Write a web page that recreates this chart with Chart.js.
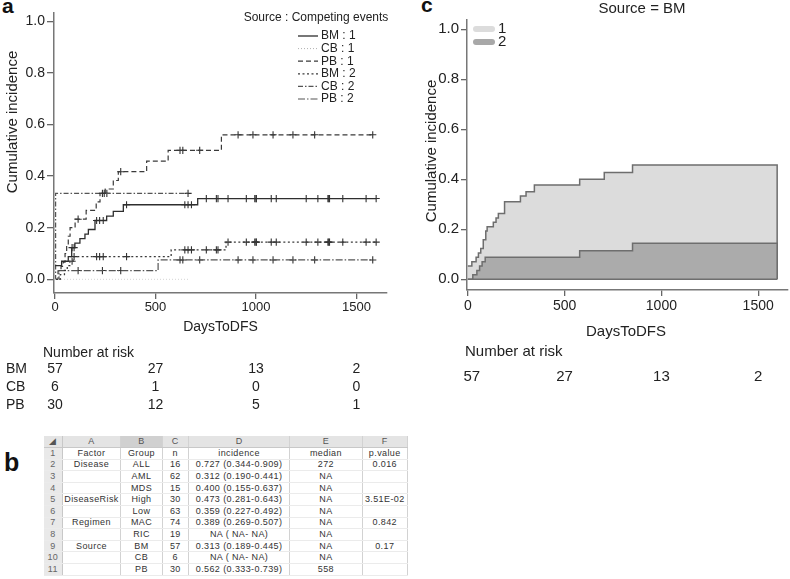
<!DOCTYPE html>
<html>
<head>
<meta charset="utf-8">
<script src="https://cdn.jsdelivr.net/npm/chart.js@4.4.0/dist/chart.umd.min.js"></script>
<style>
  body { margin:0; background:#fff; width:790px; height:579px; position:relative; overflow:hidden; font-family:'Liberation Sans', Arial, sans-serif; }
  .panel-label { position:absolute; font-weight:bold; color:#111; line-height:1; }
  #wrapA { position:absolute; left:0; top:0; width:405px; height:415px; }
  #wrapC { position:absolute; left:410px; top:0; width:380px; height:395px; }
  #tableWrap { position:absolute; left:44px; top:436px; width:364px; height:141px; overflow:hidden; }
  #tableWrap table { border-collapse:collapse; table-layout:fixed; font-size:9px; letter-spacing:0.4px; color:#333; }
  #tableWrap tr { height:11.6px; }
  #tableWrap td { padding:0; text-align:center; white-space:nowrap; overflow:hidden; line-height:1;
                  border-right:1px solid #d2d2d2; border-bottom:1px solid #ebebeb; }
  #tableWrap tr.head td { background:#e4e4e4; color:#555; border-bottom:1px solid #c8c8c8; }
  #tableWrap tr.head td.sel { background:#d0d0d0; }
  #tableWrap td.rn { background:#e9e9e9; color:#666; border-right:1px solid #c8c8c8; }
</style>
</head>
<body>
<div class="panel-label" style="left:2px; top:-5px; font-size:21px;">a</div>
<div class="panel-label" style="left:421px; top:-6px; font-size:21px;">c</div>
<div class="panel-label" style="left:4px; top:450px; font-size:25px;">b</div>
<div id="wrapA"><canvas id="chartA" width="405" height="415"></canvas></div>
<div id="wrapC"><canvas id="chartC" width="380" height="395"></canvas></div>
<div id="tableWrap"><table id="sheet"></table></div>
<script>
// ---- data ----
const xTicks = [0, 500, 1000, 1500];
const yTicks = [0, 0.2, 0.4, 0.6, 0.8, 1.0];

const endBM = 1598, endCB = 662, endPB = 1581;

// panel a: cumulative incidence by source (1 = relapse, 2 = competing)
const bm1Days = [0, 33, 66, 83, 99, 124, 149, 166, 199, 257, 290, 340, 710];
const bm1Vals = [0.053, 0.07, 0.088, 0.123, 0.14, 0.158, 0.175, 0.193, 0.228, 0.245, 0.263, 0.289, 0.313];
const cb1Days = [0];
const cb1Vals = [0];
const pb1Days = [0, 15, 30, 41, 50, 58, 66, 75, 100, 155, 205, 224, 250, 290, 315, 456, 563, 828];
const pb1Vals = [0, 0.033, 0.05, 0.067, 0.1, 0.133, 0.167, 0.2, 0.233, 0.267, 0.3, 0.333, 0.35, 0.383, 0.417, 0.458, 0.5, 0.56];
const bm2Days = [0, 26, 47, 61, 74, 90, 578, 851];
const bm2Vals = [0, 0.018, 0.035, 0.053, 0.07, 0.088, 0.114, 0.144];
const cb2Days = [0, 3];
const cb2Vals = [0, 0.333];
const pb2Days = [0, 20, 513];
const pb2Vals = [0, 0.034, 0.075];

// censoring times (+ marks)
const bmCensor = [85, 95, 207, 222, 240, 356, 646, 662, 679, 753, 803, 811, 861, 952, 994, 1000, 1002, 1076, 1101, 1250, 1308, 1358, 1362, 1366, 1432, 1548, 1598];
const cbCensor = [245, 258, 662];
const pbCensor = [115, 236, 327, 622, 636, 720, 911, 985, 1085, 1184, 1292, 1581];

// panel c: stacked, BM only (top = 1 + 2)
const bmAllDays = [0, 21, 43, 55, 67, 80, 93, 100, 132, 146, 158, 190, 272, 301, 344, 578, 705, 851];
const bmAllVals = [0.053, 0.07, 0.088, 0.105, 0.123, 0.158, 0.193, 0.21, 0.228, 0.245, 0.263, 0.31, 0.333, 0.35, 0.377, 0.4, 0.427, 0.457];

// number at risk
const riskTimes = [0, 500, 1000, 1500];
const riskBM = [57, 27, 13, 2];
const riskCB = [6, 1, 0, 0];
const riskPB = [30, 12, 5, 1];

// panel b table
const tableFactor = ['Disease', '', '', 'DiseaseRisk', '', 'Regimen', '', 'Source', '', ''];
const tableGroup = ['ALL', 'AML', 'MDS', 'High', 'Low', 'MAC', 'RIC', 'BM', 'CB', 'PB'];
const tableN = [16, 62, 15, 30, 63, 74, 19, 57, 6, 30];
const tableIncidence = ['0.727 (0.344-0.909)', '0.312 (0.190-0.441)', '0.400 (0.155-0.637)', '0.473 (0.281-0.643)',
  '0.359 (0.227-0.492)', '0.389 (0.269-0.507)', 'NA ( NA- NA)', '0.313 (0.189-0.445)', 'NA ( NA- NA)', '0.562 (0.333-0.739)'];
const tableMedian = ['272', 'NA', 'NA', 'NA', 'NA', 'NA', 'NA', 'NA', 'NA', '558'];
const tablePValue = ['0.016', '', '', '3.51E-02', '', '0.842', '', '0.17', '', ''];

// ---- helpers ----
const FONT = '"Liberation Sans", Arial, sans-serif';

function curve(days, vals, end) {
    return days.map((d, i) => ({ x: d, y: vals[i] })).concat([{ x: end, y: vals[vals.length - 1] }]);
}
function stepAt(days, vals, t) {
    let v = vals[0];
    days.forEach((d, i) => { if (d <= t) v = vals[i]; });
    return v;
}
function marks(days, vals, times) {
    return times.map(t => ({ x: t, y: stepAt(days, vals, t) }));
}

function axisX(min, max, tickLen, pad, size) {
    return {
        type: 'linear', min: min, max: max,
        afterBuildTicks: s => { s.ticks = xTicks.map(v => ({ value: v })); },
        afterFit: s => { s.height = 20; },
        grid: { drawOnChartArea: false, drawTicks: true, tickLength: tickLen, color: '#666', lineWidth: 1.3 },
        border: { display: true, color: '#777', width: 1.5 },
        ticks: { autoSkip: false, maxRotation: 0, padding: pad, color: '#222', font: { size: size, family: FONT }, callback: v => String(v) }
    };
}
function axisY(min, max, width, tickLen, size) {
    return {
        min: min, max: max,
        afterBuildTicks: s => { s.ticks = yTicks.map(v => ({ value: v })); },
        afterFit: s => { s.width = width; },
        grid: { drawOnChartArea: false, drawTicks: true, tickLength: tickLen, color: '#666', lineWidth: 1.3 },
        border: { display: true, color: '#777', width: 1.5 },
        ticks: { autoSkip: false, padding: 2, color: '#222', font: { size: size, family: FONT }, callback: v => v.toFixed(1) }
    };
}

// ---- panel a ----
const lineSeries = [
    { label: 'BM : 1', days: bm1Days, vals: bm1Vals, end: endBM, color: '#2e2e2e', dash: [], width: 1.3, censor: bmCensor },
    { label: 'CB : 1', days: cb1Days, vals: cb1Vals, end: endCB, color: '#d4d4d4', dash: [1, 2], width: 1, censor: [] },
    { label: 'PB : 1', days: pb1Days, vals: pb1Vals, end: endPB, color: '#3a3a3a', dash: [5, 3], width: 1.2, censor: pbCensor },
    { label: 'BM : 2', days: bm2Days, vals: bm2Vals, end: endBM, color: '#3a3a3a', dash: [2, 2.5], width: 1.3, censor: bmCensor },
    { label: 'CB : 2', days: cb2Days, vals: cb2Vals, end: endCB, color: '#555', dash: [5, 2, 1.5, 2], width: 1.2, censor: cbCensor },
    { label: 'PB : 2', days: pb2Days, vals: pb2Vals, end: endPB, color: '#555', dash: [7, 2, 1.5, 2], width: 1.2, censor: pbCensor }
];

const datasetsA = [];
lineSeries.forEach(s => {
    datasetsA.push({
        label: s.label, data: curve(s.days, s.vals, s.end), stepped: true,
        borderColor: s.color, borderDash: s.dash, borderWidth: s.width, pointRadius: 0, fill: false
    });
    if (s.censor.length) {
        datasetsA.push({
            label: s.label + ' censored', data: marks(s.days, s.vals, s.censor), showLine: false,
            pointStyle: 'cross', pointRadius: 3.6, pointBorderColor: '#333',
            pointBorderWidth: 1.1, pointBackgroundColor: 'transparent'
        });
    }
});

const panelAText = {
    id: 'panelAText',
    afterDraw(chart) {
        const ctx = chart.ctx, xs = chart.scales.x;
        ctx.save();
        ctx.fillStyle = '#222';
        ctx.textBaseline = 'middle';

        ctx.font = '15px ' + FONT;
        ctx.save();
        ctx.translate(13, 122);
        ctx.rotate(-Math.PI / 2);
        ctx.textAlign = 'center';
        ctx.fillText('Cumulative incidence', 0, 0);
        ctx.restore();

        ctx.font = '14px ' + FONT;
        ctx.textAlign = 'center';
        ctx.fillText('DaysToDFS', (chart.chartArea.left + chart.chartArea.right) / 2, 327);

        ctx.textAlign = 'left';
        ctx.fillText('Number at risk', 43, 353);
        const rows = [['BM', riskBM, 369], ['CB', riskCB, 387], ['PB', riskPB, 405]];
        rows.forEach(r => {
            ctx.textAlign = 'left';
            ctx.fillText(r[0], 6, r[2]);
            ctx.textAlign = 'center';
            r[1].forEach((n, i) => ctx.fillText(String(n), xs.getPixelForValue(riskTimes[i]), r[2]));
        });

        // legend
        ctx.font = '12px ' + FONT;
        ctx.textAlign = 'center';
        ctx.fillText('Source : Competing events', 316, 18);
        ctx.textAlign = 'left';
        lineSeries.forEach((s, i) => {
            const y = 36 + i * 12.6;
            ctx.save();
            ctx.strokeStyle = s.color === '#d4d4d4' ? '#b0b0b0' : s.color;
            ctx.lineWidth = s.width;
            ctx.setLineDash(s.dash);
            ctx.beginPath();
            ctx.moveTo(298, y);
            ctx.lineTo(318, y);
            ctx.stroke();
            ctx.restore();
            ctx.fillText(s.label, 321, y);
        });
        ctx.restore();
    }
};

new Chart(document.getElementById('chartA'), {
    type: 'line',
    data: { datasets: datasetsA },
    options: {
        responsive: false,
        animation: false,
        layout: { padding: { left: 0, top: 13, right: 18, bottom: 102 } },
        plugins: { legend: { display: false }, tooltip: { enabled: false } },
        scales: { x: axisX(-5, 1652, 6, 1, 13), y: axisY(-0.053, 1.032, 54, 7, 14) }
    },
    plugins: [panelAText]
});

// ---- panel c ----
const edge = '#6e6e6e';
const lightFill = '#dcdcdc';
const darkFill = '#ababab';

const datasetsC = [
    { label: 'base', data: [{ x: 0, y: 0 }, { x: endBM, y: 0 }], borderColor: edge, borderWidth: 1.5, pointRadius: 0, fill: false },
    { label: '2', data: curve(bm2Days, bm2Vals, endBM).concat([{ x: endBM, y: 0 }]), stepped: true,
      borderColor: edge, borderWidth: 1.5, pointRadius: 0, fill: 'origin', backgroundColor: darkFill },
    { label: '1', data: curve(bmAllDays, bmAllVals, endBM).concat([{ x: endBM, y: 0 }]), stepped: true,
      borderColor: edge, borderWidth: 1.5, pointRadius: 0, fill: 'origin', backgroundColor: lightFill }
];

const panelCText = {
    id: 'panelCText',
    afterDraw(chart) {
        const ctx = chart.ctx, xs = chart.scales.x;
        ctx.save();
        ctx.fillStyle = '#222';
        ctx.textBaseline = 'middle';
        ctx.font = '15px ' + FONT;

        ctx.textAlign = 'center';
        ctx.fillText('Source = BM', 232, 9);

        ctx.save();
        ctx.translate(22, 151);
        ctx.rotate(-Math.PI / 2);
        ctx.fillText('Cumulative incidence', 0, 0);
        ctx.restore();

        ctx.fillText('DaysToDFS', 216, 332);
        ctx.textAlign = 'left';
        ctx.fillText('Number at risk', 55, 352);
        ctx.textAlign = 'center';
        riskBM.forEach((n, i) => ctx.fillText(String(n), xs.getPixelForValue(riskTimes[i]) + (i === 0 ? 4 : 0), 377));

        // legend
        [[lightFill, '1', 29], ['#a8a8a8', '2', 42]].forEach(l => {
            ctx.save();
            ctx.strokeStyle = l[0];
            ctx.lineWidth = 6;
            ctx.lineCap = 'round';
            ctx.beginPath();
            ctx.moveTo(66, l[2]);
            ctx.lineTo(82, l[2]);
            ctx.stroke();
            ctx.restore();
            ctx.textAlign = 'left';
            ctx.fillText(l[1], 88, l[2]);
        });
        ctx.restore();
    }
};

new Chart(document.getElementById('chartC'), {
    type: 'line',
    data: { datasets: datasetsC },
    options: {
        responsive: false,
        animation: false,
        layout: { padding: { left: 0, top: 20, right: 2, bottom: 85 } },
        plugins: { legend: { display: false }, tooltip: { enabled: false } },
        scales: { x: axisX(-4, 1654, 6, 2, 14), y: axisY(-0.043, 1.037, 57, 6, 15) }
    },
    plugins: [panelCText]
});

// ---- panel b: spreadsheet ----
const sheet = document.getElementById('sheet');
const colWidths = [19, 59, 43, 28, 103, 77, 46];
const cg = document.createElement('colgroup');
colWidths.forEach(w => { const c = document.createElement('col'); c.style.width = w + 'px'; cg.appendChild(c); });
sheet.appendChild(cg);

function addRow(cells, head) {
    const tr = document.createElement('tr');
    if (head) tr.className = 'head';
    cells.forEach((txt, i) => {
        const td = document.createElement('td');
        td.textContent = txt;
        if (i === 0) td.className = 'rn';
        if (head && i === 2) td.className = 'sel';
        tr.appendChild(td);
    });
    sheet.appendChild(tr);
}
addRow(['\u25E2', 'A', 'B', 'C', 'D', 'E', 'F'], true);
addRow(['1', 'Factor', 'Group', 'n', 'incidence', 'median', 'p.value']);
tableGroup.forEach((g, i) => {
    addRow([String(i + 2), tableFactor[i], g, String(tableN[i]), tableIncidence[i], tableMedian[i], tablePValue[i]]);
});
</script>
</body>
</html>
